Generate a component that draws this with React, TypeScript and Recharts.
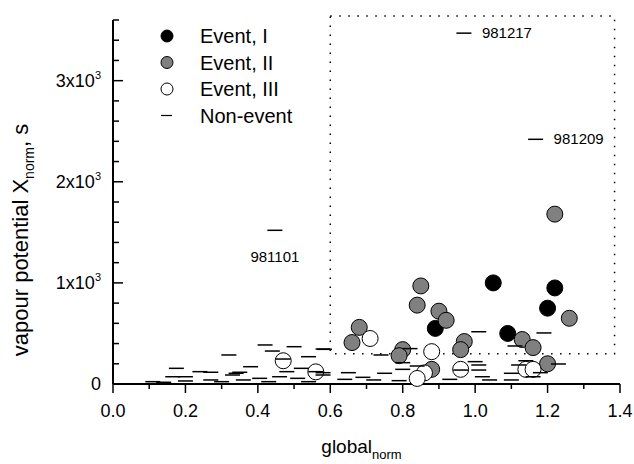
import React from 'react';
import { ScatterChart, Scatter, XAxis, YAxis, ReferenceArea, Legend } from 'recharts';

// ---- data ----
const eventI = [
  { x: 1.05, y: 1000 }, { x: 1.22, y: 950 }, { x: 1.2, y: 750 },
  { x: 0.89, y: 550 }, { x: 1.09, y: 500 },
];
const eventII = [
  { x: 1.22, y: 1680 }, { x: 0.85, y: 970 }, { x: 0.84, y: 780 }, { x: 0.9, y: 720 },
  { x: 0.92, y: 630 }, { x: 0.68, y: 560 }, { x: 0.66, y: 410 }, { x: 1.26, y: 650 },
  { x: 1.13, y: 440 }, { x: 1.16, y: 360 }, { x: 0.97, y: 420 }, { x: 0.96, y: 340 },
  { x: 0.8, y: 340 }, { x: 0.79, y: 280 }, { x: 1.2, y: 200 }, { x: 0.88, y: 145 },
];
const eventIII = [
  { x: 0.71, y: 450 }, { x: 0.88, y: 320 }, { x: 0.47, y: 230 }, { x: 0.56, y: 120 },
  { x: 0.96, y: 145 }, { x: 0.86, y: 110 }, { x: 0.84, y: 55 }, { x: 1.14, y: 145 },
  { x: 1.16, y: 145 },
];
const nonEvent = [
  { x: 0.42, y: 386 }, { x: 0.5, y: 369 }, { x: 0.58, y: 346 }, { x: 0.44, y: 326 },
  { x: 0.32, y: 287 }, { x: 0.47, y: 247 }, { x: 0.54, y: 270 }, { x: 0.38, y: 171 },
  { x: 0.175, y: 155 }, { x: 0.24, y: 122 }, { x: 0.27, y: 116 }, { x: 0.35, y: 116 },
  { x: 0.33, y: 89 }, { x: 0.165, y: 72 }, { x: 0.2, y: 72 }, { x: 0.48, y: 122 },
  { x: 0.46, y: 72 }, { x: 0.52, y: 155 }, { x: 0.56, y: 122 }, { x: 0.58, y: 89 },
  { x: 0.51, y: 56 }, { x: 0.11, y: 23 }, { x: 0.14, y: 17 }, { x: 0.2, y: 30 },
  { x: 0.27, y: 40 }, { x: 0.36, y: 40 }, { x: 0.405, y: 56 }, { x: 0.3, y: 23 },
  { x: 0.43, y: 23 }, { x: 0.54, y: 23 }, { x: 0.34, y: 106 },
  { x: 1.01, y: 517 }, { x: 1.19, y: 505 }, { x: 0.584, y: 343 }, { x: 0.74, y: 287 },
  { x: 0.82, y: 350 }, { x: 1.11, y: 376 }, { x: 1.0, y: 221 }, { x: 1.01, y: 188 },
  { x: 0.8, y: 211 }, { x: 0.84, y: 178 }, { x: 1.14, y: 230 }, { x: 1.23, y: 198 },
  { x: 1.12, y: 188 }, { x: 0.8, y: 145 }, { x: 1.01, y: 138 }, { x: 0.96, y: 138 },
  { x: 0.65, y: 112 }, { x: 0.58, y: 112 }, { x: 0.75, y: 106 }, { x: 0.69, y: 66 },
  { x: 0.64, y: 46 }, { x: 0.72, y: 40 }, { x: 0.79, y: 33 }, { x: 0.93, y: 46 },
  { x: 1.02, y: 72 }, { x: 1.04, y: 40 }, { x: 1.1, y: 106 }, { x: 1.18, y: 112 },
  { x: 1.16, y: 72 }, { x: 1.1, y: 40 },
];
const annotated = [
  { x: 0.969, y: 3470, label: '981217' },
  { x: 1.167, y: 2420, label: '981209' },
  { x: 0.447, y: 1520, label: '981101' },
];
const labelsBelow = ['981101'];
const xTicks = [0, 0.1, 0.2, 0.3, 0.4, 0.5, 0.6, 0.7, 0.8, 0.9, 1.0, 1.1, 1.2, 1.3, 1.4];
const yTicks = [0, 200, 400, 600, 800, 1000, 1200, 1400, 1600, 1800, 2000, 2200, 2400, 2600, 2800, 3000, 3200, 3400, 3600];
const boxX = [0.6, 1.385];
const boxY = [300, 3640];
const legendItems = ['Event, I', 'Event, II', 'Event, III', 'Non-event'];

const FONT = 'Liberation Sans, Arial, sans-serif';
const GRAY = '#808080';

const circleShape = (fill: string) => (p: any) => (
  <circle cx={p.cx} cy={p.cy} r={8} fill={fill} stroke="#000" strokeWidth={1} />
);
const dashShape = (p: any) => (
  <line x1={p.cx - 7.5} x2={p.cx + 7.5} y1={p.cy} y2={p.cy} stroke="#000" strokeWidth={1.5} />
);
const annotatedShape = (p: any) => {
  const below = labelsBelow.includes(p.payload.label);
  return (
    <g>
      <line x1={p.cx - 7.5} x2={p.cx + 7.5} y1={p.cy} y2={p.cy} stroke="#000" strokeWidth={1.5} />
      <text
        x={below ? p.cx : p.cx + 18}
        y={below ? p.cy + 32 : p.cy + 5}
        textAnchor={below ? 'middle' : 'start'}
        fontSize={15}
        fontFamily={FONT}
        fill="#000"
      >
        {p.payload.label}
      </text>
    </g>
  );
};

const XTick = (props: any) => {
  const { x, y, payload } = props;
  const v = payload.value;
  const major = Math.round(v * 10) % 2 === 0;
  return (
    <g>
      <line x1={x} y1={y} x2={x} y2={y + (major ? 9 : 5)} stroke="#000" strokeWidth={1.5} />
      {major && (
        <text x={x} y={y + 33} textAnchor="middle" fontSize={18} fontFamily={FONT} fill="#000">
          {v.toFixed(1)}
        </text>
      )}
    </g>
  );
};

const YTick = (props: any) => {
  const { x, y, payload } = props;
  const v = payload.value;
  const major = v % 1000 === 0;
  return (
    <g>
      <line x1={x} y1={y} x2={x + (major ? 10 : 6)} y2={y} stroke="#000" strokeWidth={1.5} />
      {major &&
        (v === 0 ? (
          <text x={x - 12} y={y + 6} textAnchor="end" fontSize={18} fontFamily={FONT} fill="#000">
            0
          </text>
        ) : (
          <text x={x - 12} y={y + 6} textAnchor="end" fontSize={18} fontFamily={FONT} fill="#000">
            {`${v / 1000}x10`}
            <tspan dy={-8} fontSize={11}>3</tspan>
          </text>
        ))}
    </g>
  );
};

const XLabel = (props: any) => {
  const vb = props.viewBox;
  return (
    <text x={vb.x + vb.width / 2 - 5} y={vb.y + 69} textAnchor="middle" fontSize={19} fontFamily={FONT} fill="#000">
      global
      <tspan dy={6} fontSize={13}>norm</tspan>
    </text>
  );
};

const YLabel = (props: any) => {
  const vb = props.viewBox;
  const cx = vb.x + 28;
  const cy = vb.y + vb.height / 2 + 38;
  return (
    <text x={cx} y={cy} transform={`rotate(-90, ${cx}, ${cy})`} textAnchor="middle" fontSize={22} fontFamily={FONT} fill="#000">
      vapour potential X
      <tspan dy={6} fontSize={14}>norm</tspan>
      <tspan dy={-6}>, s</tspan>
    </text>
  );
};

const LegendContent = () => (
  <svg width={170} height={110}>
    {legendItems.map((name, i) => {
      const cy = 16 + i * 26.5;
      let marker;
      if (i === 3) marker = <line x1={11} x2={22} y1={cy} y2={cy} stroke="#000" strokeWidth={1.2} />;
      else
        marker = (
          <circle cx={17} cy={cy} r={6} fill={i === 0 ? '#000' : i === 1 ? GRAY : '#fff'} stroke="#000" strokeWidth={1} />
        );
      return (
        <g key={name}>
          {marker}
          <text x={50} y={cy + 7} fontSize={20} fontFamily={FONT} fill="#000">
            {name}
          </text>
        </g>
      );
    })}
  </svg>
);

export default function App() {
  return (
    <div style={{ position: 'absolute', left: 0, top: 0, background: '#fff' }}>
      <ScatterChart width={634} height={464} margin={{ top: 20, right: 14, bottom: 0, left: 0 }}>
        <XAxis
          type="number"
          dataKey="x"
          domain={[0, 1.4]}
          ticks={xTicks}
          interval={0}
          tickSize={0}
          tickMargin={0}
          tickLine={false}
          tick={<XTick />}
          height={80}
          axisLine={{ stroke: '#000', strokeWidth: 2 }}
          label={{ content: <XLabel /> }}
          allowDataOverflow
        />
        <YAxis
          type="number"
          dataKey="y"
          domain={[0, 3600]}
          ticks={yTicks}
          interval={0}
          tickSize={0}
          tickMargin={0}
          tickLine={false}
          tick={<YTick />}
          width={113}
          axisLine={{ stroke: '#000', strokeWidth: 2 }}
          label={{ content: <YLabel /> }}
        />
        <ReferenceArea
          x1={boxX[0]}
          x2={boxX[1]}
          y1={boxY[0]}
          y2={boxY[1]}
          ifOverflow="visible"
          fill="none"
          stroke="#000"
          strokeWidth={1.5}
          strokeDasharray="1.5 7.5"
        />
        <Legend
          layout="vertical"
          align="center"
          verticalAlign="middle"
          wrapperStyle={{ left: 150, top: 20, width: 170, height: 110 }}
          content={<LegendContent />}
        />
        <Scatter name="Event, I" data={eventI} shape={circleShape('#000')} isAnimationActive={false} />
        <Scatter name="Event, II" data={eventII} shape={circleShape(GRAY)} isAnimationActive={false} />
        <Scatter name="Event, III" data={eventIII} shape={circleShape('#fff')} isAnimationActive={false} />
        <Scatter name="Non-event" data={nonEvent} shape={dashShape} isAnimationActive={false} />
        <Scatter name="Non-event labelled" data={annotated} shape={annotatedShape} isAnimationActive={false} />
      </ScatterChart>
    </div>
  );
}
